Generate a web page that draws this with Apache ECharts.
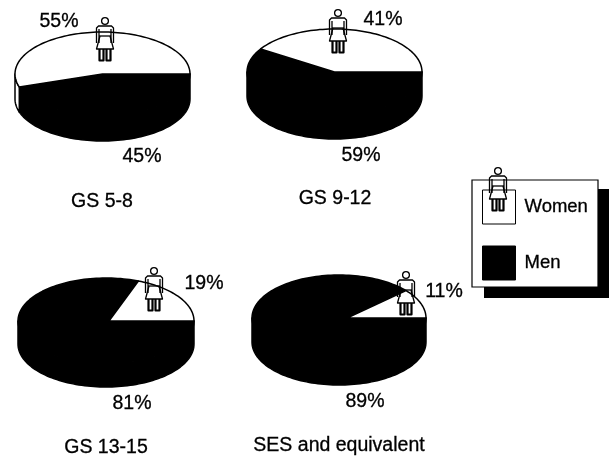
<!DOCTYPE html>
<html>
<head>
<meta charset="utf-8">
<style>html,body{margin:0;padding:0;background:#fff}#c{width:613px;height:458px}</style>
<script src="https://cdn.jsdelivr.net/npm/echarts@6/dist/echarts.min.js"></script>
</head>
<body>
<div id="c"></div>
<script>
// ----- data -----
const panels = ['GS 5-8', 'GS 9-12', 'GS 13-15', 'SES and equivalent'];
const womenShare = [55, 41, 19, 11];
const menShare = [45, 59, 81, 89];
const seriesNames = ['Women', 'Men'];

// ----- layout -----
const FONT = '"Liberation Sans", Arial, sans-serif';
const SIZE = 19.5;
const geo = [
  {cx: 102.5, cy: 74,  rx: 87.5, ry: 42, d: 25, ax: 0, wl: [59, 22],  ml: [142, 157], t: [102, 201.5], fig: [105, 21]},
  {cx: 334.5, cy: 72,  rx: 87.5, ry: 43, d: 24, ax: 0, wl: [383, 20], ml: [361, 156], t: [335, 198.5], fig: [338, 13]},
  {cx: 106,   cy: 321, rx: 88,   ry: 43, d: 23, ax: 3, wl: [204, 284], ml: [132, 404], t: [106, 447.5], fig: [154, 271]},
  {cx: 339,   cy: 318, rx: 87,   ry: 43, d: 24, ax: 8, wl: [444, 292], ml: [365, 402], t: [339, 445.5], fig: [406, 275]}
];

function arc(g, a0, a1, dy) {
  const pts = [], n = Math.max(2, Math.ceil(Math.abs(a1 - a0) / 2));
  for (let i = 0; i <= n; i++) {
    const a = (a0 + (a1 - a0) * i / n) * Math.PI / 180;
    pts.push([g.cx + g.rx * Math.cos(a), g.cy - g.ry * Math.sin(a) + dy]);
  }
  return pts;
}

function sliceChildren(g, a0, a1, fill, label, labelPos) {
  const kids = [];
  const style = {fill: fill, stroke: '#000', lineWidth: 1.5, lineJoin: 'round'};
  const w0 = Math.max(a0, 180), w1 = Math.min(a1, 360);
  if (w1 > w0) {
    const top = arc(g, w0, w1, 0), bot = arc(g, w0, w1, g.d).reverse();
    kids.push({type: 'polygon', shape: {points: top.concat(bot)}, style: style});
  }
  kids.push({type: 'polygon', shape: {points: [[g.cx + g.ax, g.cy]].concat(arc(g, a0, a1, 0))}, style: style});
  kids.push({type: 'text', x: labelPos[0], y: labelPos[1], style: {
    text: label, fill: '#000', stroke: '#000', lineWidth: 0.3, font: SIZE + 'px ' + FONT, align: 'center', verticalAlign: 'middle'}});
  return kids;
}

function sliceSeries(name, values, fill, z, range, labelKey) {
  return {
    type: 'custom', name: name, coordinateSystem: 'none', z: z, silent: true,
    itemStyle: {color: fill, borderColor: '#000', borderWidth: 1},
    data: values.map((v, i) => [i, v]),
    renderItem: function (params, api) {
      const i = api.value(0), v = api.value(1), g = geo[i];
      const r = range(v);
      return {type: 'group', children: sliceChildren(g, r[0], r[1], fill, v + '%', g[labelKey])};
    }
  };
}

function figure(x, y) {
  const st = {fill: 'none', stroke: '#000', lineWidth: 1.3, lineJoin: 'round'};
  const line = (p, w) => ({type: 'polyline', z: 10, silent: true, shape: {points: p}, style: Object.assign({}, st, w ? {lineWidth: w} : {})});
  return {
    type: 'group', x: x, y: y, silent: true,
    children: [
      {type: 'circle', z: 10, silent: true, shape: {cx: 0, cy: 0, r: 3.4}, style: st},
      line([[-8.5, 22], [-8.5, 7], [-6.5, 5], [6.5, 5], [8.5, 7], [8.5, 22]]),
      line([[-6, 22], [-6, 8]]), line([[6, 22], [6, 8]]),
      line([[-6, 15], [6, 15]]),
      line([[-5, 15], [-8.5, 28], [8.5, 28], [5, 15]]),
      line([[-5.5, 28], [-5.5, 39.5], [-1.5, 39.5], [-1.5, 28]], 2.2),
      line([[5.5, 28], [5.5, 39.5], [1.5, 39.5], [1.5, 28]], 2.2)
    ]
  };
}

const option = {
  backgroundColor: '#fff',
  animation: false,
  textStyle: {fontFamily: FONT},
  title: panels.map((p, i) => ({
    text: p, left: geo[i].t[0], top: geo[i].t[1] - 10, textAlign: 'center', padding: 0,
    textStyle: {fontFamily: FONT, fontSize: SIZE, fontWeight: 'normal', color: '#000', lineHeight: 20, textBorderColor: '#000', textBorderWidth: 0.3}
  })),
  legend: {
    orient: 'vertical', left: 482, top: 189.5, padding: 0,
    itemWidth: 33, itemHeight: 34, itemGap: 21, selectedMode: false, z: 5,
    data: seriesNames.map(n => ({name: n, icon: 'rect', itemStyle: {borderWidth: 1}})),
    textStyle: {fontFamily: FONT, fontSize: 18.5, color: '#000', padding: [0, 0, 0, 4], textBorderColor: '#000', textBorderWidth: 0.3}
  },
  graphic: [
    {type: 'rect', z: 0, silent: true, shape: {x: 484, y: 189, width: 125, height: 109}, style: {fill: '#000'}},
    {type: 'rect', z: 1, silent: true, shape: {x: 472, y: 180, width: 126, height: 107}, style: {fill: '#fff', stroke: '#000', lineWidth: 1.2}},
    ...geo.map(g => figure(g.fig[0], g.fig[1])),
    figure(498, 171)
  ],
  series: [
    sliceSeries(seriesNames[1], menShare, '#000', 2, v => [360 - v * 3.6, 360], 'ml'),
    sliceSeries(seriesNames[0], womenShare, '#fff', 3, v => [0, v * 3.6], 'wl')
  ]
};
echarts.init(document.getElementById('c')).setOption(option);
</script>
</body>
</html>
